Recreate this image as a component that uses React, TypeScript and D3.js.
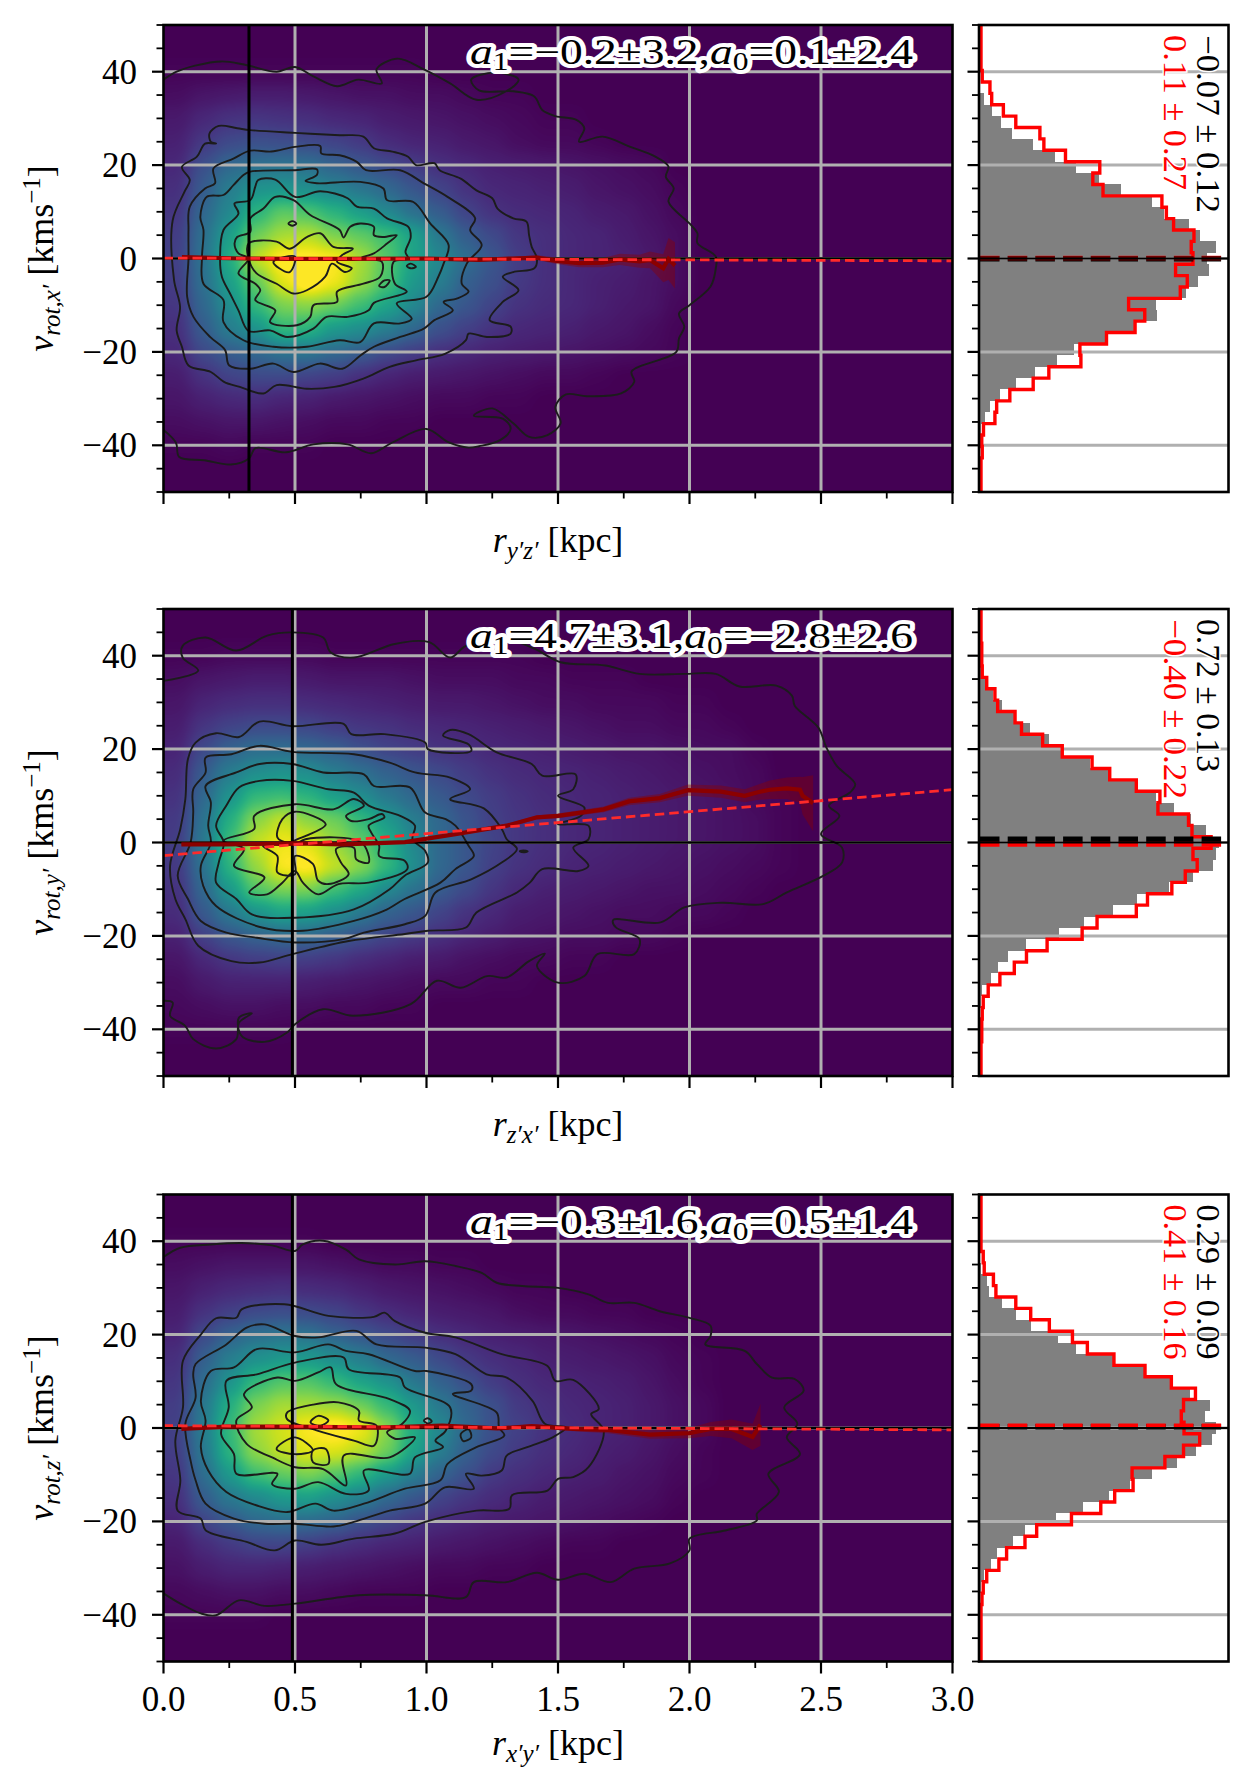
import { useEffect, useRef } from "react";
import * as d3 from "d3";

type Pt = [number, number];
type Part = { s: string; italic?: boolean; shift?: number; size?: number };

// heat map, values 0-100, one row per 5 km/s (45 .. -45), one column per 0.1 kpc
const heat1: number[][] = [
  [0],
  [1, 1, 1, 1, 1, 1, 1, 1, 1, 1],
  [3, 5, 6, 7, 7, 6, 5, 4, 4, 3, 3, 2, 1, 1],
  [6, 10, 13, 14, 13, 12, 10, 9, 7, 6, 5, 4, 3, 2, 1, 1],
  [8, 15, 20, 22, 21, 20, 18, 15, 11, 9, 8, 6, 5, 3, 2, 2, 1],
  [10, 22, 30, 33, 34, 33, 28, 24, 20, 16, 12, 10, 8, 7, 6, 5, 4, 3, 2],
  [12, 26, 38, 46, 47, 44, 40, 35, 30, 24, 18, 13, 10, 9, 8, 7, 5, 4, 3, 1],
  [14, 30, 42, 58, 68, 65, 58, 50, 42, 33, 26, 18, 13, 11, 10, 9, 7, 6, 4, 2],
  [16, 33, 50, 70, 78, 80, 72, 68, 62, 52, 36, 26, 20, 14, 12, 10, 9, 7, 5, 3],
  [17, 34, 55, 82, 92, 92, 90, 78, 66, 52, 42, 32, 24, 16, 12, 10, 9, 8, 6, 3],
  [16, 33, 50, 68, 86, 95, 88, 76, 64, 48, 38, 27, 22, 15, 12, 10, 8, 7, 5, 3],
  [14, 30, 44, 60, 72, 74, 70, 62, 52, 42, 30, 24, 18, 13, 11, 10, 8, 6, 5, 2],
  [12, 26, 38, 46, 60, 58, 48, 44, 38, 30, 22, 17, 13, 10, 9, 8, 6, 5, 3, 1],
  [10, 20, 26, 30, 34, 35, 30, 26, 20, 16, 12, 10, 8, 7, 6, 5, 4, 3, 2, 1],
  [7, 13, 18, 20, 20, 18, 16, 12, 9, 7, 6, 5, 4, 3, 2, 2, 1],
  [5, 8, 10, 11, 9, 8, 6, 5, 4, 3, 2, 2, 1, 1],
  [3, 4, 5, 5, 4, 3, 2, 2, 1, 1],
  [1, 1, 2, 1, 1, 1],
  [0],
];
const heat2: number[][] = [
  [0],
  [1, 1, 2, 2, 2, 2, 1, 1, 1, 1, 1, 1, 1, 1],
  [3, 5, 6, 7, 7, 6, 5, 5, 5, 4, 3, 3, 3, 2, 2, 1, 1, 1],
  [5, 9, 11, 12, 12, 11, 10, 9, 8, 7, 6, 6, 5, 4, 3, 3, 2, 2, 2, 1, 1],
  [7, 14, 18, 20, 20, 19, 16, 14, 13, 11, 10, 9, 8, 7, 6, 5, 4, 3, 3, 2, 2, 1],
  [9, 20, 28, 32, 32, 30, 27, 22, 18, 16, 13, 12, 10, 9, 8, 7, 6, 5, 5, 4, 3, 3, 1],
  [11, 26, 38, 44, 46, 44, 38, 33, 28, 24, 20, 16, 13, 11, 10, 9, 8, 7, 6, 5, 4, 3, 2],
  [13, 30, 46, 60, 62, 58, 50, 44, 36, 30, 25, 20, 16, 13, 11, 10, 9, 8, 7, 6, 5, 4, 2, 1],
  [15, 34, 56, 74, 82, 74, 70, 60, 48, 38, 30, 23, 17, 14, 12, 10, 9, 8, 7, 6, 5, 4, 3, 1],
  [16, 36, 62, 82, 88, 86, 76, 68, 56, 42, 30, 24, 18, 14, 12, 10, 9, 8, 7, 6, 5, 4, 3, 1],
  [15, 34, 58, 76, 90, 92, 82, 74, 60, 44, 30, 24, 17, 13, 11, 9, 8, 7, 6, 5, 4, 3, 2, 1],
  [13, 30, 48, 66, 72, 72, 62, 54, 42, 34, 26, 20, 14, 10, 8, 7, 6, 5, 4, 4, 3, 2, 1],
  [11, 25, 36, 46, 52, 50, 44, 36, 28, 24, 18, 13, 10, 7, 6, 5, 4, 3, 3, 2, 2, 1],
  [8, 17, 24, 28, 30, 30, 26, 22, 18, 15, 12, 9, 7, 5, 4, 3, 3, 2, 2, 1],
  [5, 10, 14, 16, 17, 16, 14, 11, 9, 7, 6, 4, 3, 2, 2, 1, 1],
  [3, 6, 8, 8, 8, 7, 6, 5, 4, 3, 2, 2, 1, 1],
  [2, 3, 4, 4, 3, 3, 2, 2, 1, 1],
  [1, 1, 1, 1, 1],
  [0],
];
const heat3: number[][] = [
  [0],
  [1, 1, 1, 1, 1, 1],
  [3, 4, 5, 5, 5, 5, 4, 3, 2, 2, 1, 1],
  [5, 8, 10, 11, 12, 11, 10, 8, 6, 5, 4, 3, 2, 1, 1],
  [7, 13, 17, 20, 21, 20, 18, 14, 11, 9, 7, 6, 5, 3, 2, 2, 1, 1],
  [9, 20, 28, 33, 35, 34, 28, 24, 20, 16, 12, 10, 8, 7, 6, 5, 4, 3, 2, 1],
  [12, 27, 38, 45, 48, 48, 44, 38, 30, 26, 20, 15, 12, 10, 8, 7, 6, 5, 4, 2, 1],
  [14, 32, 46, 60, 66, 66, 60, 52, 46, 36, 28, 22, 16, 12, 10, 9, 8, 7, 5, 3, 1],
  [16, 36, 56, 72, 78, 78, 76, 70, 60, 48, 36, 28, 22, 15, 12, 10, 9, 8, 6, 4, 2],
  [17, 38, 60, 78, 84, 90, 94, 88, 74, 55, 42, 30, 22, 17, 13, 11, 9, 8, 6, 4, 2],
  [16, 36, 58, 75, 82, 86, 85, 80, 70, 52, 38, 27, 20, 15, 12, 10, 8, 7, 5, 3, 1],
  [14, 32, 48, 62, 68, 72, 66, 58, 48, 38, 28, 22, 15, 12, 10, 8, 7, 5, 4, 2, 1],
  [12, 26, 36, 42, 48, 50, 44, 38, 30, 24, 18, 14, 11, 9, 7, 6, 5, 4, 3, 1],
  [9, 18, 24, 30, 32, 31, 28, 22, 18, 14, 11, 9, 7, 6, 5, 4, 3, 2, 1],
  [6, 11, 15, 18, 18, 16, 13, 11, 9, 8, 6, 5, 4, 3, 2, 1, 1],
  [4, 7, 9, 9, 8, 7, 6, 5, 4, 3, 2, 2, 1, 1],
  [2, 3, 4, 4, 3, 3, 2, 1, 1, 1],
  [1, 1, 1, 1],
  [0],
];

// outermost contours run into the left edge, the others are closed
const outer1: Pt[] = [[0, 38.3], [.05, 40], [.12, 41.3], [.22, 42.2], [.31, 41.5], [.43, 40], [.5, 41], [.57, 39], [.66, 36.9], [.74, 38.3], [.83, 37.5], [.81, 40.5], [.89, 42.8], [.99, 40.5], [1.09, 37.5], [1.19, 34], [1.3, 35.7], [1.35, 38.3], [1.26, 39.8], [1.17, 38.3], [1.2, 36], [1.33, 35.8], [1.41, 34.7], [1.44, 31.8], [1.49, 30.5], [1.57, 29.7], [1.6, 27.9], [1.58, 25], [1.67, 26.1], [1.77, 24], [1.87, 21.8], [1.92, 19.7], [1.91, 17.5], [1.94, 15], [1.92, 12.2], [2, 7.5], [2.03, 5.4], [2.03, 3.3], [2.1, .4], [2.1, -2.1], [2.08, -6], [2, -10], [1.96, -11.8], [1.98, -14.6], [1.96, -17.1], [1.95, -20], [1.78, -24.2], [1.79, -26.4], [1.74, -28.9], [1.61, -29.5], [1.53, -29.1], [1.49, -31.8], [1.51, -35.3], [1.46, -37.8], [1.39, -38.2], [1.33, -35.3], [1.25, -32.1], [1.18, -33.7], [1.29, -34.3], [1.32, -36.4], [1.28, -38.9], [1.2, -40.2], [1.16, -40.5], [1.085, -39.4], [1, -36.5], [.87, -39.4], [.79, -41.7], [.7, -39.8], [.57, -39.8], [.465, -41.5], [.35, -40.6], [.325, -42.8], [.256, -44.1], [.155, -43.2], [.06, -42.5], [.047, -39.4], [0, -36.7]];
const rings1: Pt[][] = [
  [[.2, 24.6], [.18, 25], [.175, 26.8], [.21, 28.4], [.28, 27.9], [.33, 27.5], [.5, 26.9], [.67, 26.4], [.76, 26.1], [.8, 23.6], [.87, 22.9], [.93, 21.8], [.96, 20], [1.03, 20.4], [1.05, 18.9], [1.13, 17.1], [1.19, 14.6], [1.25, 12.9], [1.27, 10.7], [1.33, 8.6], [1.38, 7.9], [1.39, 5], [1.4, 2.5], [1.42, 0], [1.41, -2.1], [1.33, -2.9], [1.29, -3.9], [1.35, -6.8], [1.29, -9.3], [1.24, -13.2], [1.32, -14.6], [1.32, -16.1], [1.23, -16.8], [1.16, -16.1], [1.15, -17.5], [1.07, -20.4], [.96, -21.8], [.86, -23.2], [.76, -25.7], [.65, -27.5], [.545, -27.9], [.43, -27.1], [.38, -28.9], [.29, -27.5], [.23, -26.4], [.18, -24.3], [.095, -22.9], [.07, -18.9], [.05, -15.4], [.063, -10.4], [.04, -4.6], [.035, 8.2], [.08, 14.3], [.1, 16.8], [.07, 19.6], [.127, 21.8], [.158, 24.6]],
  [[.33, 23.1], [.41, 22.9], [.5, 23.9], [.596, 24.1], [.6, 22.5], [.67, 22.1], [.735, 20.7], [.77, 18.9], [.9, 18.9], [.99, 16.1], [1.08, 13.2], [1.185, 8.6], [1.166, 6.1], [1.21, 2.9], [1.153, -1.1], [1.134, -5.4], [1.16, -7.1], [1.115, -8.6], [1.065, -9.3], [1.1, -11.1], [1.03, -13.2], [.99, -15], [.9, -16.8], [.8, -18.9], [.75, -20.7], [.68, -23.6], [.595, -22.5], [.494, -24.3], [.418, -22.5], [.33, -23.6], [.25, -22.9], [.234, -19.6], [.177, -16.8], [.114, -12.5], [.09, -8.2], [.095, 0], [.095, 6.1], [.1, 11.1], [.158, 15], [.196, 16.1], [.19, 19.3], [.266, 21.4]],
  [[.33, 18.6], [.494, 18.9], [.583, 19.1], [.583, 17.9], [.54, 16.6], [.583, 16.1], [.748, 16.4], [.836, 15], [.85, 12.5], [.95, 12.1], [1.014, 7.5], [1.084, 2.9], [1.065, -1.1], [1.045, -3.9], [1, -8.2], [.887, -9.6], [.944, -12.9], [.9, -13.9], [.8, -13.9], [.748, -17.9], [.67, -17.5], [.545, -18.9], [.418, -18.9], [.304, -17.5], [.228, -13.6], [.228, -8.9], [.152, -5.4], [.146, 0], [.152, 6.1], [.14, 8.9], [.165, 13.2], [.228, 13.6], [.266, 15.7], [.304, 17.9]],
  [[.349, 15.4], [.36, 16.8], [.425, 16.9], [.5, 13.2], [.596, 14.4], [.7, 12.9], [.735, 11.1], [.8, 10.7], [.85, 8.6], [.93, 6.8], [.94, 4.6], [.92, 1.4], [.93, 0], [.875, -.7], [.88, -5.4], [.925, -7.1], [.8, -9.5], [.78, -11.1], [.7, -12.5], [.62, -12.5], [.57, -15], [.47, -16.8], [.405, -15.4], [.323, -15.5], [.285, -11.1], [.253, -7.5], [.222, -3.9], [.215, 0], [.228, 6.1], [.285, 9.6], [.27, 11.8], [.33, 12.5]],
  [[.33, 8.6], [.38, 10.7], [.425, 13.2], [.494, 12.5], [.558, 9.3], [.67, 6.1], [.684, 4.5], [.71, 6.8], [.748, 7.5], [.8, 6.8], [.8, 5], [.836, 4.6], [.887, 5], [.85, 3.2], [.8, 1.1], [.748, 0], [.83, -.7], [.824, -3.9], [.76, -5.4], [.66, -7.1], [.66, -9.3], [.57, -10], [.558, -12.5], [.507, -14.3], [.405, -13.6], [.425, -11.1], [.349, -8.9], [.368, -6.8], [.349, -5.4], [.285, -3.2], [.323, 0], [.285, 1.1], [.27, 3.2], [.28, 4.6], [.33, 5.7]],
  [[.323, 3.2], [.43, 3.6], [.48, 2.1], [.545, 4.6], [.596, 5.4], [.646, 2.5], [.72, 2.1], [.678, .7], [.66, -.7], [.716, -2.1], [.69, -2.9], [.64, -1.1], [.615, -3.9], [.545, -6.8], [.494, -7.5], [.43, -5.4], [.354, -3.2], [.323, 0]],
  [[.418, -.7], [.5, .4], [.48, -2.9], [.44, -2.1]],
  [[.475, 7.5], [.49, 8], [.505, 7.5], [.49, 7]],
  [[.925, -1.6], [.94, -1.1], [.96, -1.8], [.94, -2.1]],
  [[.82, -5.9], [.84, -4.7], [.86, -4.7], [.84, -6.1]],
];
const outer2: Pt[] = [[0, 34.6], [.132, 36.8], [.073, 39.6], [.073, 42.1], [.16, 43.9], [.277, 41.1], [.394, 44.3], [.49, 45], [.607, 43.9], [.636, 40.7], [.724, 39.6], [.879, 42.5], [1.01, 42.9], [1.09, 39.6], [1.15, 42.1], [1.3, 43.5], [1.41, 41.5], [1.51, 38.6], [1.68, 37.9], [1.81, 36.1], [1.98, 36.1], [2.1, 36.1], [2.19, 33.4], [2.33, 33.6], [2.39, 31.4], [2.4, 29.3], [2.49, 24.6], [2.52, 20.4], [2.56, 16.4], [2.63, 12.5], [2.61, 10.7], [2.53, 7.9], [2.57, 5.7], [2.5, 1.8], [2.58, -1.1], [2.58, -4.3], [2.51, -7.1], [2.37, -10.7], [2.28, -13.2], [2.12, -12.9], [1.98, -13.9], [1.89, -17.1], [1.71, -16.6], [1.72, -18.2], [1.81, -20.7], [1.79, -23.9], [1.65, -23.9], [1.6, -28.6], [1.5, -30], [1.42, -26.4], [1.45, -23.8], [1.39, -25.4], [1.305, -28.9], [1.23, -28.6], [1.13, -31.1], [1.04, -29.6], [.94, -34.6], [.72, -37.1], [.607, -35.7], [.5, -38.9], [.47, -40.7], [.384, -42.7], [.297, -41.4], [.287, -37.5], [.336, -36.6], [.287, -38.6], [.277, -42.1], [.2, -44.1], [.113, -42.1], [.083, -39.3], [.025, -37.1], [.035, -34.3], [0, -33.9]];
const rings2: Pt[][] = [
  [[.2, 23.4], [.287, 22.6], [.365, 25.9], [.49, 24.9], [.685, 25.4], [.714, 23.2], [.84, 23.2], [.995, 21.4], [1.005, 20], [1.17, 19.6], [1.16, 21], [1.063, 22.9], [1.09, 24.1], [1.16, 23.2], [1.267, 19.3], [1.4, 16.8], [1.44, 14.3], [1.567, 14.6], [1.558, 11.4], [1.5, 10], [1.6, 7.5], [1.587, 5.7], [1.5, 3.9], [1.616, 3.6], [1.616, .7], [1.558, -1.1], [1.616, -5], [1.577, -6.1], [1.44, -5.7], [1.393, -8.6], [1.344, -10.7], [1.19, -15], [1.15, -18.2], [1.005, -18.9], [.918, -19.6], [.704, -21.1], [.49, -23.9], [.365, -25.7], [.258, -25.4], [.132, -22.1], [.083, -16.4], [.045, -12.1], [.025, -5], [.064, 2.9], [.083, 9.3], [.093, 17.9], [.122, 21.4]],
  [[.16, 18.2], [.258, 18.9], [.365, 20.7], [.49, 19.4], [.724, 18.9], [.86, 17.1], [.956, 15], [1.09, 13.9], [1.166, 11.4], [1.09, 9.3], [1.218, 7.3], [1.286, 2.9], [1.305, .7], [1.344, -1.4], [1.286, -4.3], [1.17, -7.9], [1.034, -10.7], [.995, -15.7], [.918, -17.5], [.762, -19.3], [.685, -20.7], [.5, -21.4], [.355, -20.4], [.239, -19.3], [.142, -16.8], [.093, -12.1], [.054, -7.1], [.103, 0], [.113, 6.4], [.113, 11.4], [.16, 15]],
  [[.49, 16.8], [.607, 15], [.762, 14.6], [.8, 12.1], [.937, 11.8], [.995, 6.4], [1.073, 5], [1.11, 3.6], [1.16, -.7], [1.18, -2.9], [1.11, -5.7], [1.053, -8.6], [.917, -12.1], [.84, -14.6], [.724, -16.8], [.53, -18.9], [.374, -18.2], [.2, -13.6], [.151, -9.3], [.142, -5], [.18, 0], [.17, 3.6], [.18, 8.6], [.16, 12.1], [.277, 15], [.365, 16.8]],
  [[.239, 7.9], [.287, 11.8], [.365, 13.2], [.49, 13.2], [.627, 11.4], [.724, 10.7], [.78, 7.9], [.9, 5.7], [.956, 3.6], [.947, .7], [.995, -1.8], [1.005, -4.3], [.917, -7.1], [.86, -10], [.724, -14.3], [.5, -16.1], [.336, -15.4], [.277, -12.1], [.2, -8.6], [.21, -4.3], [.229, 0], [.2, 3.6]],
  [[.345, 5.7], [.5, 8.2], [.646, 7.1], [.724, 9.3], [.762, 7.9], [.694, 5.7], [.714, 4.6], [.78, 5], [.83, 6.1], [.84, 5.4], [.78, 3.6], [.79, 2.1], [.82, -.7], [.82, -2.9], [.917, -3.9], [.927, -5.7], [.78, -8.6], [.665, -8.9], [.588, -11.1], [.53, -8.6], [.5, -6.1], [.452, -8.6], [.394, -11.1], [.326, -10.7], [.384, -7.5], [.268, -5], [.306, -1.4], [.229, .4], [.345, 2.9]],
  [[.5, 6.6], [.617, 3.9], [.51, .7], [.47, 0], [.433, 1.1], [.452, 5]],
  [[.378, -.7], [.433, -2.9], [.433, -6.4], [.5, -6.8], [.5, -2.9], [.568, -4.6], [.588, -8.2], [.627, -8.9], [.704, -6.8], [.675, -4.3], [.656, -1.4], [.724, -1.1], [.733, -3.6], [.78, -4.3], [.753, 0], [.54, .7], [.5, -.4]],
  [[1.355, -1.9], [1.368, -1.7], [1.385, -1.9], [1.368, -2.1]],
];
const outer3: Pt[] = [[0, 36.6], [.064, 38.6], [.18, 39.3], [.297, 39.6], [.413, 39.1], [.5, 37.9], [.53, 39.3], [.607, 40.1], [.694, 38.2], [.743, 36.1], [.88, 35], [.995, 35.7], [1.11, 34.7], [1.21, 33.2], [1.267, 31.1], [1.364, 30.4], [1.5, 30], [1.616, 28.6], [1.69, 26.8], [1.79, 26.8], [1.887, 25], [2, 23.6], [2.08, 21.9], [2.08, 19.7], [2.06, 17.9], [2.21, 16.5], [2.256, 13.7], [2.314, 10.8], [2.4, 10.5], [2.434, 8], [2.36, 4.4], [2.41, .9], [2.37, -2], [2.42, -5.6], [2.3, -9.8], [2.34, -13.7], [2.256, -18.4], [2.256, -19.8], [2.14, -21.9], [2, -23.7], [2, -26.2], [1.926, -29], [1.79, -30.1], [1.7, -33], [1.6, -31.2], [1.5, -32.5], [1.42, -31], [1.305, -33], [1.18, -33], [1.15, -36.2], [.995, -35.8], [.743, -35.8], [.5, -37.6], [.384, -38.1], [.287, -36.9], [.2, -40.1], [.142, -39.7], [.064, -37.6], [0, -35.4]];
const rings3: Pt[][] = [
  [[.142, 20], [.2, 23.5], [.277, 23.6], [.297, 25.4], [.46, 26.5], [.627, 24], [.8, 23.8], [.84, 24.7], [.88, 22.9], [.995, 20.4], [1.11, 19.4], [1.286, 15.8], [1.46, 13.3], [1.49, 10.1], [1.558, 10.3], [1.655, 4.1], [1.626, 3], [1.674, -.6], [1.616, -8.4], [1.558, -10.5], [1.5, -10.9], [1.46, -13.4], [1.325, -14.4], [1.315, -17.3], [1.19, -17.7], [.995, -20.1], [.88, -22.6], [.724, -23.7], [.6, -25], [.5, -24.1], [.423, -26.2], [.316, -24.4], [.16, -21.9], [.142, -19.4], [.054, -17.7], [.064, -11.2], [.045, -2.7], [.074, 4.4], [.074, 14.4]],
  [[.122, 13.7], [.239, 17.9], [.316, 21.5], [.384, 22.2], [.5, 19.7], [.588, 19.4], [.733, 20.8], [.81, 17.9], [.995, 17.2], [1.11, 15.8], [1.228, 11.5], [1.305, 10.8], [1.403, 5.8], [1.45, .9], [1.53, .1], [1.48, -2], [1.383, -4.1], [1.305, -5.9], [1.286, -9.1], [1.21, -10.2], [1.15, -9.8], [1.18, -13], [1.07, -12.7], [.995, -16.2], [.86, -17.7], [.724, -20.1], [.646, -21.1], [.5, -20.5], [.384, -20.5], [.268, -19.4], [.16, -16.2], [.122, -11.2], [.103, -7], [.083, .9], [.122, 6.5], [.113, 11.5]],
  [[.18, 12.2], [.268, 13], [.355, 16.9], [.5, 16.2], [.627, 17.9], [.694, 16.5], [.78, 15.8], [.956, 12.2], [1, 12.2], [1.17, 9.4], [1.17, 8], [1.1, 7.3], [1.267, 3.3], [1.276, .1], [1.296, -1.6], [1.19, -4.1], [1.08, -7.7], [1.053, -11.2], [.918, -13], [.762, -16.2], [.646, -17.7], [.578, -16.2], [.47, -18], [.355, -16.6], [.239, -13.7], [.17, -9.1], [.142, -4.1], [.16, 1.6], [.142, 5.8]],
  [[.239, 10.1], [.355, 11.5], [.5, 14], [.685, 15.1], [.704, 12.6], [.9, 10.8], [.918, 8.7], [1.09, 4.4], [1.073, -.6], [1.034, -2.7], [1.063, -4.1], [.956, -6.3], [.937, -9.8], [.762, -9.1], [.78, -13.4], [.694, -14.1], [.588, -11.6], [.5, -13], [.413, -12], [.433, -9.8], [.277, -9.8], [.268, -5.6], [.219, -1.3], [.248, 4.4]],
  [[.306, 7.3], [.433, 10.8], [.5, 10.1], [.588, 11.9], [.636, 13], [.656, 9.4], [.86, 6.2], [.937, 3.7], [.908, .9], [.85, -.9], [.88, -2.3], [.956, -2], [.86, -6.3], [.685, -5.9], [.694, -12.3], [.607, -8.8], [.5, -8.4], [.413, -6.3], [.316, -3.4], [.277, 1.6], [.336, 4.4]],
  [[.47, 3.3], [.568, 5], [.665, 5.5], [.743, 3.7], [.743, 1.6], [.81, .5], [.8, -3.8], [.724, -2.7], [.588, -.6], [.47, 1.9]],
  [[.559, 1.2], [.588, 2.6], [.627, 1.6], [.597, .5]],
  [[.43, -4.5], [.5, -2], [.568, -4.8], [.5, -5.6]],
  [[.568, -4.8], [.617, -4.5], [.627, -7.7], [.568, -7.3]],
  [[.99, 1.6], [1.005, 2.1], [1.02, 1.4], [1.005, 1]],
  [[1.13, -1.3], [1.16, -.3], [1.17, -2], [1.14, -2.8]],
];

// running median with its error
const medR1 = [.07, .3, .5, .7, 1, 1.2, 1.33, 1.42, 1.495, 1.58, 1.67, 1.735, 1.81, 1.85, 1.9, 1.92, 1.945];
const medV1 = [.3, 0, -.1, -.1, 0, -.3, 0, .2, -.5, -1, -.9, -.2, -.6, -.3, -2.1, -.1, -1.5];
const medE1 = [.1, .1, .1, .1, .2, .3, .4, .5, .7, .9, 1, 1.2, 1.4, 1.8, 3, 4.5, 5];
const medR2 = [.068, .24, .5, .685, .918, 1.11, 1.305, 1.42, 1.5, 1.674, 1.77, 1.887, 1.994, 2.12, 2.21, 2.256, 2.305, 2.37, 2.42, 2.43, 2.47];
const medV2 = [-.4, -.4, -.2, -.4, .1, 1.8, 3.6, 5.4, 5.7, 7.1, 8.8, 9.5, 11.2, 10.9, 10, 10.7, 11.3, 11.6, 11.3, 10, 8.4];
const medE2 = [.2, .2, .2, .2, .2, .3, .4, .4, .5, .6, .8, .9, 1.2, 1.3, 1.4, 1.6, 2, 2.3, 2.8, 4, 6];
const medR3 = [.068, .24, .5, .82, 1.06, 1.27, 1.4, 1.56, 1.69, 1.85, 2, 2.08, 2.16, 2.24, 2.27];
const medV3 = [-.2, .3, .3, .1, .5, -.1, .4, -.2, -.4, -1.4, -1.1, -.2, -.2, -1.9, .7];
const medE3 = [.1, .1, .1, .2, .2, .3, .4, .5, .7, .9, 1.1, 1.5, 2, 2.8, 4.5];

// histograms, 41 bins from v=50 down to v=-50, bar length in percent of the axes
const gray1 = [0, 0, 0, 0, 0, 0, 1.6, 5, 8.3, 13, 21.3, 30, 38.8, 47.8, 56.9, 69.2, 74.2, 84.2, 88.6, 95, 91.3, 92.2, 87.7, 83, 70.8, 71.4, 62.5, 50.5, 37.8, 30.8, 22, 14.3, 8, 3.9, 1.9, .3, 0, 0, 0, 0, 0];
const red1 = [0, 0, 0, 0, .5, 3.6, 4.3, 9, 14, 23.7, 25.3, 34, 47.8, 45, 49.1, 72.8, 74.6, 77.5, 85.7, 84.6, 85.3, 78.3, 83, 80.2, 59.4, 65.9, 62, 50.5, 39.8, 40.2, 27.3, 21, 11.6, 6.3, 5.6, 1, .3, .5, 0, 0, 0];
const gray2 = [0, 0, 0, 0, 0, .3, 2.3, 5.4, 8.7, 13.7, 20, 27.7, 33, 44.4, 52.5, 62.5, 71, 78, 85, 91, 96, 95, 93.7, 85.7, 76, 63, 53.4, 42, 31.7, 18.7, 11.4, 7.4, 4.3, .9, .3, 0, 0, 0, 0, 0, 0];
const red2 = [0, 0, 0, .3, .3, .5, 2.3, 5.6, 6.7, 13.7, 16.3, 24.8, 32.7, 44.7, 51.8, 62.5, 72, 71.2, 83.5, 84.9, 92.6, 85.3, 87, 82.2, 76.8, 67, 62.5, 46.7, 40.7, 26.6, 18.3, 13.4, 7.6, 2.9, .9, .5, .3, .3, 0, 0, 0];
const gray3 = [0, 0, 0, 0, 0, 0, .3, 2.9, 3.6, 8.7, 14.3, 20.7, 31.3, 38.8, 54.5, 65.9, 76.6, 84.6, 92.6, 90.6, 95, 93.3, 87, 79.2, 69.2, 60.5, 51.8, 41.5, 30.4, 18.3, 13.3, 7, 4.3, 1.6, .3, 0, 0, 0, 0, 0, 0];
const red3 = [0, 0, 0, 0, 0, .9, 1.3, 5, 6, 14, 20, 27.5, 36.8, 42.8, 53.5, 66, 76.6, 86.3, 81.5, 80.6, 81.7, 88, 81.5, 74, 60.8, 61.2, 53.8, 48.2, 36.4, 22.4, 17.7, 10.3, 7.2, 2.3, .9, .4, 0, 0, 0, 0, 0];

const heats = [heat1, heat2, heat3];
const outers = [outer1, outer2, outer3];
const rings = [rings1, rings2, rings3];
const medRs = [medR1, medR2, medR3];
const medVs = [medV1, medV2, medV3];
const medEs = [medE1, medE2, medE3];
const grays = [gray1, gray2, gray3];
const reds = [red1, red2, red3];

const guideR = [.325, .49, .49];
const slopes = [-.2, 4.7, -.3];
const intercepts = [.1, -2.8, .5];
const fitLabels = [
  ["\u22120.2\u00b13.2,", "0.1\u00b12.4"],
  ["4.7\u00b13.1,", "\u22122.8\u00b12.6"],
  ["\u22120.3\u00b11.6,", "0.5\u00b11.4"],
];
const blackMeans = [-.07, .72, .29];
const redMeans = [.11, -.4, .41];
const blackLabels = ["\u22120.07 \u00b1 0.12", "0.72 \u00b1 0.13", "0.29 \u00b1 0.09"];
const redLabels = ["0.11 \u00b1 0.27", "\u22120.40 \u00b1 0.22", "0.41 \u00b1 0.16"];
const blackLens = [178, 153, 155];
const redLens = [155, 180, 155];
const redDashOpacity = [.45, 1, 1];
const xSubs = ["y\u2032z\u2032", "z\u2032x\u2032", "x\u2032y\u2032"];
const ySubs = ["rot,x\u2032", "rot,y\u2032", "rot,z\u2032"];
const majorV = [-40, -20, 0, 20, 40];
const minorV = [-50, -45, -35, -30, -25, -15, -10, -5, 5, 10, 15, 25, 30, 35, 45, 50];
const majorR = [0, .5, 1, 1.5, 2, 2.5, 3];
const minorR = [.25, .75, 1.25, 1.75, 2.25, 2.75];

const W = 1253;
const H = 1791;
const FONT = "'Liberation Serif', serif";
const TOPS = [25, 609, 1194.5];
const PANEL_H = 467;
const N_BINS = 41;
const viridis = d3.scaleSequential(d3.interpolateViridis).domain([0, 90]);

function heatImage(grid: number[][], w: number, h: number) {
  const data = new Float64Array(w * h);
  const col = d3.scaleLinear().domain([0, w]).range([0, 30]);
  const row = d3.scaleLinear().domain([0, h]).range([50, -50]);
  for (let y = 0; y < h; y++) {
    const j = Math.max(0, Math.min(18, Math.round((45 - row(y)) / 5)));
    for (let x = 0; x < w; x++) {
      data[y * w + x] = grid[j][Math.floor(col(x))] ?? 0;
    }
  }
  d3.blur2({ data, width: w, height: h }, 7);
  const canvas = document.createElement("canvas");
  canvas.width = w;
  canvas.height = h;
  const ctx = canvas.getContext("2d")!;
  const img = ctx.createImageData(w, h);
  for (let i = 0; i < data.length; i++) {
    const c = d3.rgb(viridis(data[i]));
    img.data[i * 4] = c.r;
    img.data[i * 4 + 1] = c.g;
    img.data[i * 4 + 2] = c.b;
    img.data[i * 4 + 3] = 255;
  }
  ctx.putImageData(img, 0, 0);
  return canvas.toDataURL();
}

function mathText(text: d3.Selection<SVGTextElement, unknown, null, undefined>, parts: Part[]) {
  let at = 0;
  parts.forEach((p) => {
    const shift = p.shift ?? 0;
    text
      .append("tspan")
      .attr("dy", shift - at)
      .attr("font-style", p.italic ? "italic" : "normal")
      .attr("font-size", p.size ?? 36)
      .text(p.s);
    at = shift;
  });
}

export default function App() {
  const svgRef = useRef<SVGSVGElement>(null);

  useEffect(() => {
    if (!svgRef.current) return;
    const svg = d3.select(svgRef.current);
    svg.selectAll("*").remove();

    const x = d3.scaleLinear().domain([0, 3]).range([163.5, 952.5]);
    const hx = d3.scaleLinear().domain([0, 100]).range([980, 1228.5]);

    TOPS.forEach((top, p) => {
      const y = d3.scaleLinear().domain([-50, 50]).range([top + PANEL_H, top]);
      const clipId = `clip-${p}`;
      svg
        .append("clipPath")
        .attr("id", clipId)
        .append("rect")
        .attr("x", x(0))
        .attr("y", top)
        .attr("width", x(3) - x(0))
        .attr("height", PANEL_H);

      const main = svg.append("g").attr("clip-path", `url(#${clipId})`);
      main
        .append("image")
        .attr("href", heatImage(heats[p], Math.round(x(3) - x(0)), PANEL_H))
        .attr("x", x(0))
        .attr("y", top)
        .attr("width", x(3) - x(0))
        .attr("height", PANEL_H)
        .attr("preserveAspectRatio", "none");

      main
        .selectAll(".grid-v")
        .data(majorR.slice(1, -1))
        .join("line")
        .attr("x1", (d) => x(d))
        .attr("x2", (d) => x(d))
        .attr("y1", top)
        .attr("y2", top + PANEL_H)
        .attr("stroke", "#b0b0b0")
        .attr("stroke-width", 3);
      main
        .selectAll(".grid-h")
        .data(majorV)
        .join("line")
        .attr("x1", x(0))
        .attr("x2", x(3))
        .attr("y1", (d) => y(d))
        .attr("y2", (d) => y(d))
        .attr("stroke", "#b0b0b0")
        .attr("stroke-width", 3);

      const lineOpen = d3
        .line<Pt>()
        .x((d) => x(d[0]))
        .y((d) => y(d[1]))
        .curve(d3.curveCatmullRom);
      const lineClosed = d3
        .line<Pt>()
        .x((d) => x(d[0]))
        .y((d) => y(d[1]))
        .curve(d3.curveCatmullRomClosed);
      const contourStyle = (s: any) =>
        s.attr("fill", "none").attr("stroke", "#1c1c1c").attr("stroke-width", 1.9);
      main.append("path").attr("d", lineOpen(outers[p])).call(contourStyle);
      main
        .selectAll(".ring")
        .data(rings[p])
        .join("path")
        .attr("d", (d) => lineClosed(d))
        .call(contourStyle);

      main
        .append("line")
        .attr("x1", x(0))
        .attr("x2", x(3))
        .attr("y1", y(0))
        .attr("y2", y(0))
        .attr("stroke", "#000")
        .attr("stroke-width", 2.4);
      main
        .append("line")
        .attr("x1", x(guideR[p]))
        .attr("x2", x(guideR[p]))
        .attr("y1", top)
        .attr("y2", top + PANEL_H)
        .attr("stroke", "#000")
        .attr("stroke-width", 3);

      const medIdx = d3.range(medRs[p].length);
      main
        .append("path")
        .attr(
          "d",
          d3
            .area<number>()
            .x((i) => x(medRs[p][i]))
            .y0((i) => y(medVs[p][i] - medEs[p][i]))
            .y1((i) => y(medVs[p][i] + medEs[p][i]))(medIdx),
        )
        .attr("fill", "#8b0000")
        .attr("opacity", 0.4);
      main
        .append("path")
        .attr(
          "d",
          d3
            .line<number>()
            .x((i) => x(medRs[p][i]))
            .y((i) => y(medVs[p][i]))(medIdx),
        )
        .attr("fill", "none")
        .attr("stroke", "#8b0000")
        .attr("stroke-width", 4.2);
      main
        .append("line")
        .attr("x1", x(0))
        .attr("x2", x(3))
        .attr("y1", y(intercepts[p]))
        .attr("y2", y(intercepts[p] + slopes[p] * 3))
        .attr("stroke", "#ff2a2a")
        .attr("stroke-width", 2.8)
        .attr("stroke-dasharray", "9.5 5");

      // fit values
      const fit = svg
        .append("text")
        .attr("x", 913)
        .attr("y", top + 39)
        .attr("text-anchor", "end")
        .attr("font-family", FONT)
        .attr("fill", "#000")
        .attr("stroke", "#fff")
        .attr("stroke-width", 8)
        .attr("stroke-linejoin", "round")
        .attr("paint-order", "stroke")
        .attr("textLength", 443)
        .attr("lengthAdjust", "spacingAndGlyphs");
      mathText(fit, [
        { s: "a", italic: true },
        { s: "1", shift: 6, size: 25 },
        { s: "=" + fitLabels[p][0] },
        { s: "a", italic: true },
        { s: "0", shift: 6, size: 25 },
        { s: "=" + fitLabels[p][1] },
      ]);

      // left axis
      svg
        .selectAll(`.tick-major-${p}`)
        .data(majorV)
        .join("line")
        .attr("x1", x(0) - 11.5)
        .attr("x2", x(0))
        .attr("y1", (d) => y(d))
        .attr("y2", (d) => y(d))
        .attr("stroke", "#000")
        .attr("stroke-width", 2.2);
      svg
        .selectAll(`.tick-minor-${p}`)
        .data(minorV)
        .join("line")
        .attr("x1", x(0) - 7)
        .attr("x2", x(0))
        .attr("y1", (d) => y(d))
        .attr("y2", (d) => y(d))
        .attr("stroke", "#000")
        .attr("stroke-width", 1.8);
      svg
        .selectAll(`.ylab-${p}`)
        .data(majorV)
        .join("text")
        .attr("x", 137)
        .attr("y", (d) => y(d) + 12)
        .attr("text-anchor", "end")
        .attr("font-family", FONT)
        .attr("font-size", 35)
        .text((d) => (d < 0 ? `\u2212${-d}` : `${d}`));

      // bottom axis
      svg
        .selectAll(`.xtick-major-${p}`)
        .data(majorR)
        .join("line")
        .attr("x1", (d) => x(d))
        .attr("x2", (d) => x(d))
        .attr("y1", top + PANEL_H)
        .attr("y2", top + PANEL_H + 12)
        .attr("stroke", "#000")
        .attr("stroke-width", 2.2);
      svg
        .selectAll(`.xtick-minor-${p}`)
        .data(minorR)
        .join("line")
        .attr("x1", (d) => x(d))
        .attr("x2", (d) => x(d))
        .attr("y1", top + PANEL_H)
        .attr("y2", top + PANEL_H + 6.5)
        .attr("stroke", "#000")
        .attr("stroke-width", 1.8);
      if (p === 2) {
        svg
          .selectAll(".xlab")
          .data(majorR)
          .join("text")
          .attr("x", (d) => x(d))
          .attr("y", 1711)
          .attr("text-anchor", "middle")
          .attr("font-family", FONT)
          .attr("font-size", 35)
          .text((d) => d.toFixed(1));
      }

      const xTitle = svg
        .append("text")
        .attr("x", x(1.5))
        .attr("y", top + PANEL_H + (p === 2 ? 93 : 60))
        .attr("text-anchor", "middle")
        .attr("font-family", FONT);
      mathText(xTitle, [
        { s: "r", italic: true },
        { s: xSubs[p], italic: true, shift: 7, size: 25 },
        { s: " [kpc]" },
      ]);
      const yTitle = svg
        .append("text")
        .attr("transform", `translate(53,${top + PANEL_H / 2}) rotate(-90)`)
        .attr("text-anchor", "middle")
        .attr("font-family", FONT);
      mathText(yTitle, [
        { s: "v", italic: true },
        { s: ySubs[p], italic: true, shift: 7, size: 25 },
        { s: " [kms" },
        { s: "\u22121", shift: -13, size: 25 },
        { s: "]" },
      ]);
      svg
        .append("rect")
        .attr("x", x(0))
        .attr("y", top)
        .attr("width", x(3) - x(0))
        .attr("height", PANEL_H)
        .attr("fill", "none")
        .attr("stroke", "#000")
        .attr("stroke-width", 2.6);

      // side histogram
      const edge = d3
        .scaleLinear()
        .domain([0, N_BINS])
        .range([y(50), y(-50)]);
      const side = svg.append("g");
      side
        .selectAll("rect")
        .data(grays[p])
        .join("rect")
        .attr("x", hx(0))
        .attr("y", (_, i) => edge(i))
        .attr("width", (d) => hx(d) - hx(0))
        .attr("height", edge(1) - edge(0))
        .attr("fill", "#808080")
        .attr("shape-rendering", "crispEdges");
      side
        .selectAll(".hgrid")
        .data(majorV)
        .join("line")
        .attr("x1", hx(0))
        .attr("x2", hx(100))
        .attr("y1", (d) => y(d))
        .attr("y2", (d) => y(d))
        .attr("stroke", "#b0b0b0")
        .attr("stroke-width", 3);

      const step = reds[p].flatMap((d, i) => [
        [d, i] as Pt,
        [d, i + 1] as Pt,
      ]);
      side
        .append("path")
        .attr(
          "d",
          d3
            .line<Pt>()
            .x((d) => hx(d[0]) + 1)
            .y((d) => edge(d[1]))(step),
        )
        .attr("fill", "none")
        .attr("stroke", "#ff0000")
        .attr("stroke-width", 3.4);

      side
        .append("line")
        .attr("x1", hx(0))
        .attr("x2", hx(100))
        .attr("y1", y(blackMeans[p]))
        .attr("y2", y(blackMeans[p]))
        .attr("stroke", "#000")
        .attr("stroke-width", 5.5)
        .attr("stroke-dasharray", "19.5 8.2");
      side
        .append("line")
        .attr("x1", hx(0))
        .attr("x2", hx(100))
        .attr("y1", y(redMeans[p]))
        .attr("y2", y(redMeans[p]))
        .attr("stroke", "#ff0000")
        .attr("stroke-width", 5)
        .attr("stroke-dasharray", "19.5 8.2")
        .attr("opacity", redDashOpacity[p]);
      side
        .append("line")
        .attr("x1", hx(0))
        .attr("x2", hx(100))
        .attr("y1", y(0))
        .attr("y2", y(0))
        .attr("stroke", "#000")
        .attr("stroke-width", 2.2);

      const sideLabel = (s: string, xPos: number, len: number, fill: string) =>
        side
          .append("text")
          .attr("transform", `translate(${xPos},${top + 10}) rotate(90)`)
          .attr("font-family", FONT)
          .attr("font-size", 34)
          .attr("fill", fill)
          .attr("stroke", "#fff")
          .attr("stroke-width", 3)
          .attr("paint-order", "stroke")
          .attr("textLength", len)
          .attr("lengthAdjust", "spacingAndGlyphs")
          .text(s);
      sideLabel(redLabels[p], 1164, redLens[p], "#ff0000");
      sideLabel(blackLabels[p], 1197, blackLens[p], "#000");

      side
        .selectAll(".side-major")
        .data(majorV)
        .join("line")
        .attr("x1", hx(0) - 12.5)
        .attr("x2", hx(0))
        .attr("y1", (d) => y(d))
        .attr("y2", (d) => y(d))
        .attr("stroke", "#000")
        .attr("stroke-width", 2.2);
      side
        .selectAll(".side-minor")
        .data(minorV)
        .join("line")
        .attr("x1", hx(0) - 8)
        .attr("x2", hx(0))
        .attr("y1", (d) => y(d))
        .attr("y2", (d) => y(d))
        .attr("stroke", "#000")
        .attr("stroke-width", 1.8);
      side
        .append("rect")
        .attr("x", hx(0) - 1)
        .attr("y", top)
        .attr("width", hx(100) - hx(0) + 1)
        .attr("height", PANEL_H)
        .attr("fill", "none")
        .attr("stroke", "#000")
        .attr("stroke-width", 2.6);
    });
  }, []);

  return (
    <svg
      ref={svgRef}
      width={W}
      height={H}
      viewBox={`0 0 ${W} ${H}`}
      style={{ position: "absolute", left: 0, top: 0, background: "#fff" }}
    />
  );
}
